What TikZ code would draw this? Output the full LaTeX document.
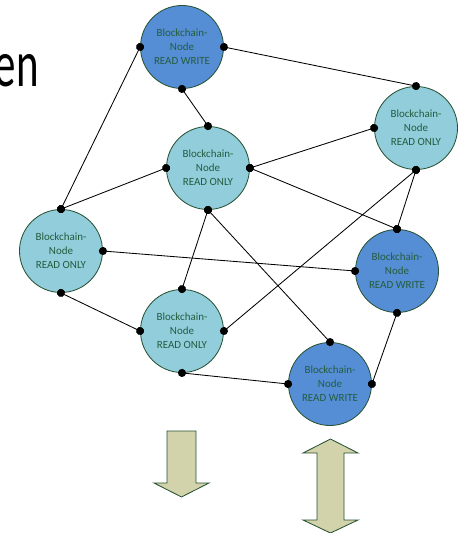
\documentclass[tikz,border=0pt]{standalone}
\usepackage{fontspec}
\setmainfont{Carlito}
\usetikzlibrary{arrows.meta}

\definecolor{rofill}{RGB}{146,205,220}
\definecolor{rwfill}{RGB}{85,142,213}
\definecolor{rimgreen}{RGB}{40,82,52}
\definecolor{labelgreen}{RGB}{36,92,62}
\definecolor{arrowfill}{RGB}{210,211,170}

\begin{document}
\begin{tikzpicture}[x=0.025cm, y=-0.025cm]
	\tikzstyle{peer}=[draw=rimgreen, shape=circle, minimum size=2.075cm, inner sep=0pt, line width=0.6pt, align=center, text=labelgreen, font=\fontsize{7.8}{10}\selectfont]
	\tikzstyle{ro}=[peer, fill=rofill]
	\tikzstyle{rw}=[peer, fill=rwfill]
	\tikzstyle{link}=[line width=0.6pt, {Circle[length=5.7pt]}-{Circle[length=5.7pt]}, shorten <=-2.85pt, shorten >=-2.85pt]
	\tikzstyle{bigarrow}=[draw=rimgreen, fill=arrowfill, line width=0.6pt]

	\useasboundingbox (0,0) rectangle (459,533);

	\node[anchor=base east, inner sep=0pt, font=\fontsize{47}{47}\selectfont](word) at (39,86){\scalebox{0.65}[1]{en}};

	\node[rw](rw1) at (182,47){Blockchain-\\Node\\READ WRITE};
	\node[ro](ro2) at (416,128){Blockchain-\\Node\\READ ONLY};
	\node[ro](ro3) at (208,168){Blockchain-\\Node\\READ ONLY};
	\node[ro](ro4) at (61,251){Blockchain-\\Node\\READ ONLY};
	\node[rw](rw5) at (397,271){Blockchain-\\Node\\READ WRITE};
	\node[ro](ro6) at (182,331){Blockchain-\\Node\\READ ONLY};
	\node[rw](rw7) at (330,384){Blockchain-\\Node\\READ WRITE};

	\draw[link] (rw1.west) -- (ro4.north);
	\draw[link] (rw1.east) -- (ro2.north);
	\draw[link] (rw1.south) -- (ro3.north);

	\draw[link] (ro3.west) -- (ro4.north);
	\draw[link] (ro3.east) -- (ro2.west);
	\draw[link] (ro3.east) -- (rw5.north);
	\draw[link] (ro3.south) -- (ro6.north);
	\draw[link] (ro3.south) -- (rw7.north);

	\draw[link] (ro2.south) -- (rw5.north);
	\draw[link] (ro2.south) -- (ro6.east);

	\draw[link] (ro4.east) -- (rw5.west);
	\draw[link] (ro4.south) -- (ro6.west);

	\draw[link] (ro6.south) -- (rw7.west);
	\draw[link] (rw7.east) -- (rw5.south);

	% block arrows below the network
	\draw[bigarrow] (167,431) -- (196,431) -- (196,483) -- (209,483) -- (181.5,497) -- (154,483) -- (167,483) -- cycle;
	\draw[bigarrow] (330.5,439) -- (358,453) -- (344,453) -- (344,520) -- (358,520) -- (330.5,533) -- (303,520) -- (317,520) -- (317,453) -- (303,453) -- cycle;
\end{tikzpicture}
\end{document}
